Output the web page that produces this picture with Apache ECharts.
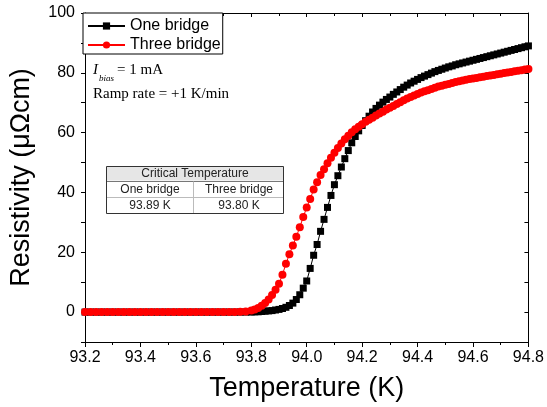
<!DOCTYPE html>
<html>
<head>
<meta charset="utf-8">
<script src="https://cdn.jsdelivr.net/npm/echarts@6/dist/echarts.min.js"></script>
<style>
  html, body { margin: 0; padding: 0; background: #fff; }
  #chart { width: 547px; height: 407px; }
</style>
</head>
<body>
<div id="chart"></div>
<script>
// temperature samples (K)
const temps = [
  93.20, 93.22, 93.24, 93.26, 93.28, 93.30, 93.32, 93.34, 93.36, 93.38,
  93.40, 93.42, 93.44, 93.46, 93.48, 93.50, 93.52, 93.54, 93.56, 93.58,
  93.60, 93.62, 93.64, 93.66, 93.68, 93.70, 93.72, 93.74, 93.76, 93.78, 93.80,
  93.8125, 93.825, 93.8375, 93.85, 93.8625, 93.875, 93.8875, 93.90,
  93.9125, 93.925, 93.9375, 93.95, 93.9625, 93.975, 93.9875, 94.00,
  94.0125, 94.025, 94.0375, 94.05, 94.0625, 94.075, 94.0875, 94.10,
  94.1125, 94.125, 94.1375, 94.15, 94.1625, 94.175, 94.1875, 94.20,
  94.2125, 94.225, 94.2375, 94.25, 94.2625, 94.275, 94.2875, 94.30,
  94.3125, 94.325, 94.3375, 94.35, 94.3625, 94.375, 94.3875, 94.40,
  94.4125, 94.425, 94.4375, 94.45, 94.4625, 94.475, 94.4875, 94.50,
  94.5125, 94.525, 94.5375, 94.55, 94.5625, 94.575, 94.5875, 94.60,
  94.6125, 94.625, 94.6375, 94.65, 94.6625, 94.675, 94.6875, 94.70,
  94.7125, 94.725, 94.7375, 94.75, 94.7625, 94.775, 94.7875, 94.80
]

// resistivity (µΩcm), one bridge
const oneBridge = [
  0, 0, 0, 0, 0, 0, 0, 0, 0, 0,
  0, 0, 0, 0, 0, 0, 0, 0, 0, 0,
  0, 0, 0, 0, 0, 0, 0, 0, 0, 0, 0,
  0.1, 0.1, 0.2, 0.3, 0.4, 0.5, 0.7, 0.9,
  1.2, 1.6, 2.2, 3.0, 4.2, 5.8, 8.0, 10.4,
  14.6, 19.0, 22.6, 27.0, 31.0, 35.0, 39.0, 42.6,
  45.6, 48.5, 51.3, 54.0, 56.6, 58.7, 60.6, 62.4,
  64.0, 65.5, 66.9, 68.1, 69.2, 70.2, 71.1, 71.9,
  72.8, 73.6, 74.4, 75.2, 75.9, 76.6, 77.2, 77.8,
  78.4, 78.9, 79.4, 79.9, 80.4, 80.8, 81.2, 81.6,
  82.0, 82.3, 82.7, 83.0, 83.3, 83.6, 83.9, 84.2,
  84.5, 84.8, 85.1, 85.4, 85.7, 86.0, 86.3, 86.6,
  86.9, 87.2, 87.5, 87.8, 88.1, 88.4, 88.7, 89.0
]

// resistivity (µΩcm), three bridge
const threeBridge = [
  0, 0, 0, 0, 0, 0, 0, 0, 0, 0,
  0, 0, 0, 0, 0, 0, 0, 0, 0, 0,
  0, 0, 0, 0, 0, 0, 0, 0, 0.1, 0.2, 0.5,
  0.9, 1.4, 2.1, 3.0, 4.2, 5.7, 7.5, 9.5,
  12.5, 16.2, 19.3, 22.3, 25.2, 28.4, 31.8, 35.0,
  37.8, 41.0, 43.4, 45.8, 47.8, 49.8, 51.6, 53.3,
  54.9, 56.4, 57.8, 59.0, 60.1, 61.1, 62.0, 62.8,
  63.6, 64.3, 65.0, 65.7, 66.4, 67.0, 67.7, 68.3,
  68.9, 69.6, 70.2, 70.8, 71.4, 71.9, 72.4, 72.9,
  73.4, 73.8, 74.2, 74.6, 75.0, 75.4, 75.7, 76.0,
  76.3, 76.6, 76.9, 77.2, 77.4, 77.7, 77.9, 78.1,
  78.3, 78.5, 78.7, 78.9, 79.1, 79.3, 79.5, 79.7,
  79.9, 80.1, 80.3, 80.5, 80.7, 80.9, 81.1, 81.3
]

const seriesNames = ['One bridge', 'Three bridge']

const tableHead = 'Critical Temperature'
const tableCols = ['One bridge', 'Three bridge']
const tableVals = ['93.89 K', '93.80 K']

const sans = "'Liberation Sans', Arial, sans-serif"
const serif = "'Liberation Serif', 'Times New Roman', serif"

const myChart = echarts.init(document.getElementById('chart'))

const tickStyle = { color: '#000', width: 1 }

const xBase = {
  type: 'value',
  min: 93.2,
  max: 94.8,
  interval: 0.2,
  axisLine: { show: true, onZero: false, lineStyle: { color: '#000', width: 1 } },
  splitLine: { show: false },
  minorTick: { show: true, splitNumber: 2, length: 3, lineStyle: tickStyle }
}

const yBase = {
  type: 'value',
  min: -10,
  max: 100,
  interval: 10,
  splitLine: { show: false },
  axisLine: { show: true, onZero: false, lineStyle: { color: '#000', width: 1 } }
}

const cellText = (text, x, y) => ({
  type: 'text',
  x: x,
  y: y,
  z: 101,
  style: { text: text, font: '12px ' + sans, fill: '#222', textAlign: 'center', textVerticalAlign: 'middle' }
})

const hLine = (x1, x2, y, color) => ({
  type: 'line', z: 101,
  shape: { x1: x1, y1: y, x2: x2, y2: y },
  style: { stroke: color, lineWidth: 1 }
})

const option = {
  animation: false,
  backgroundColor: '#fff',
  grid: { left: 83, right: 16, top: 13, bottom: 65 },
  legend: {
    data: seriesNames,
    orient: 'vertical',
    left: 83,
    top: 13,
    padding: [5, 2, 1, 4],
    itemGap: 3,
    itemWidth: 37,
    itemHeight: 9,
    borderColor: '#000',
    borderWidth: 1,
    backgroundColor: '#fff',
    textStyle: { color: '#000', fontSize: 16, fontFamily: sans }
  },
  xAxis: [
    Object.assign({}, xBase, {
      position: 'bottom',
      name: 'Temperature (K)',
      nameLocation: 'middle',
      nameGap: 33,
      nameTextStyle: { color: '#000', fontSize: 27, fontFamily: sans },
      axisTick: { show: true, inside: false, length: 5, lineStyle: tickStyle },
      axisLabel: {
        show: true, color: '#000', fontSize: 16, fontFamily: sans, margin: 8,
        showMinLabel: true, showMaxLabel: true,
        formatter: v => v.toFixed(1)
      }
    }),
    Object.assign({}, xBase, {
      position: 'top',
      axisTick: { show: true, inside: true, length: 4, lineStyle: tickStyle },
      axisLabel: { show: false }
    })
  ],
  yAxis: [
    Object.assign({}, yBase, {
      position: 'left',
      name: 'Resistivity (μΩcm)',
      nameLocation: 'middle',
      nameGap: 50,
      nameTextStyle: { color: '#000', fontSize: 27, fontFamily: sans },
      axisTick: { show: true, inside: false, length: 4, lineStyle: tickStyle },
      axisLabel: {
        show: true, color: '#000', fontSize: 16, fontFamily: sans, margin: 10,
        formatter: v => (v % 20 === 0 ? String(v) : '')
      }
    }),
    Object.assign({}, yBase, {
      position: 'right',
      axisTick: { show: true, inside: true, length: 4, lineStyle: tickStyle },
      axisLabel: { show: false }
    })
  ],
  series: [
    {
      name: seriesNames[0],
      type: 'line',
      data: temps.map((t, i) => [t, oneBridge[i]]),
      symbol: 'rect',
      symbolSize: 7,
      showSymbol: true,
      lineStyle: { color: '#000', width: 1 },
      itemStyle: { color: '#000' }
    },
    {
      name: seriesNames[1],
      type: 'line',
      data: temps.map((t, i) => [t, threeBridge[i]]),
      symbol: 'circle',
      symbolSize: 8,
      showSymbol: true,
      lineStyle: { color: '#ff0000', width: 1 },
      itemStyle: { color: '#ff0000' }
    }
  ],
  graphic: [
    // annotation text
    { type: 'text', x: 93, y: 70, z: 100, style: { text: 'I', font: 'italic 15px ' + serif, fill: '#000', textVerticalAlign: 'middle' } },
    { type: 'text', x: 99, y: 79, z: 100, style: { text: 'bias', font: 'italic 9px ' + serif, fill: '#000', textVerticalAlign: 'middle' } },
    { type: 'text', x: 117, y: 70, z: 100, style: { text: '= 1 mA', font: '15px ' + serif, fill: '#000', textVerticalAlign: 'middle' } },
    { type: 'text', x: 93, y: 94, z: 100, style: { text: 'Ramp rate = +1 K/min', font: '15px ' + serif, fill: '#000', textVerticalAlign: 'middle' } },
    // critical temperature table
    { type: 'rect', z: 100, shape: { x: 106.5, y: 166.5, width: 177, height: 47 }, style: { fill: '#fff', stroke: 'none' } },
    { type: 'rect', z: 100, shape: { x: 106.5, y: 166.5, width: 177, height: 14 }, style: { fill: '#e6e6e6', stroke: 'none' } },
    hLine(106.5, 283.5, 181.5, '#777'),
    hLine(106.5, 283.5, 197.5, '#bbb'),
    { type: 'line', z: 101, shape: { x1: 193.5, y1: 181.5, x2: 193.5, y2: 213.5 }, style: { stroke: '#bbb', lineWidth: 1 } },
    { type: 'rect', z: 102, shape: { x: 106.5, y: 166.5, width: 177, height: 47 }, style: { fill: 'none', stroke: '#333', lineWidth: 1 } },
    cellText(tableHead, 195, 174),
    cellText(tableCols[0], 150, 190),
    cellText(tableCols[1], 239, 190),
    cellText(tableVals[0], 150, 206),
    cellText(tableVals[1], 239, 206)
  ]
}

myChart.setOption(option)
</script>
</body>
</html>
